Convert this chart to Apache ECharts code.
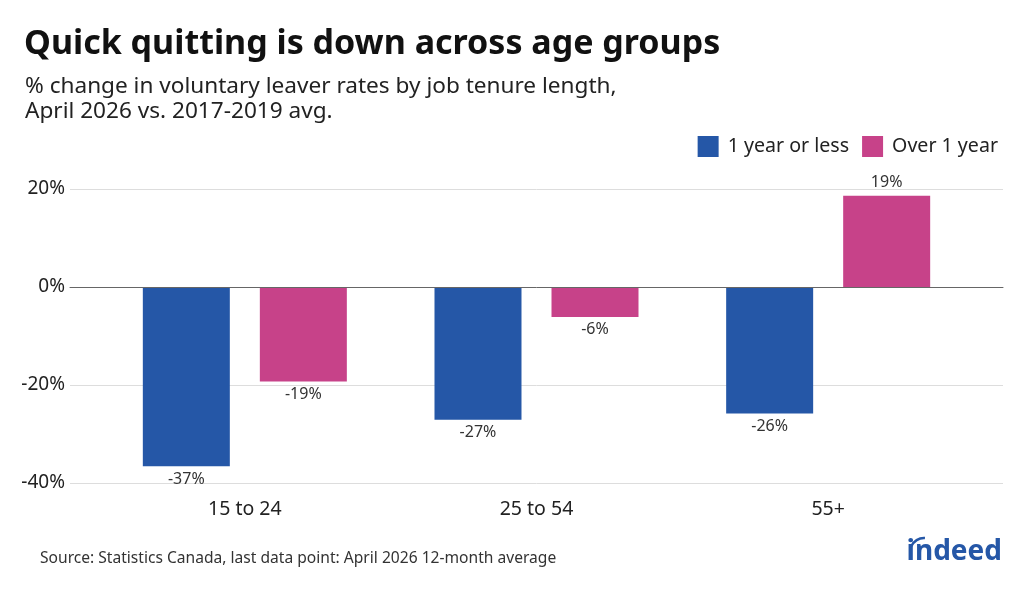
<!DOCTYPE html>
<html>
<head>
<meta charset="utf-8">
<script src="https://cdn.jsdelivr.net/npm/echarts@6/dist/echarts.min.js"></script>
<style>
  html, body { margin: 0; padding: 0; background: #fff; }
  #chart { width: 1024px; height: 614px; }
</style>
</head>
<body>
<div id="chart"></div>
<script>
// age groups and the two tenure series (% change vs 2017-2019 avg)
const ageGroups = ['15 to 24', '25 to 54', '55+'];
const shortTenure = [-36.6, -27.1, -25.8];
const longTenure = [-19.3, -6.1, 18.6];
const yTicks = { min: -40, max: 20, step: 20 };

const FONT = '"Noto Sans", "Open Sans", sans-serif';
const BLUE = '#2557a7';
const PINK = '#c74289';

// label below for negative bars, above for positive
const withLabels = vals => vals.map(v => ({
    value: v,
    label: { position: v < 0 ? 'bottom' : 'top' }
}));

const chart = echarts.init(document.getElementById('chart'));
chart.setOption({
    backgroundColor: '#fff',
    textStyle: { fontFamily: FONT },
    title: [
        { text: 'Quick quitting is down across age groups', left: 19, top: 22,
          textStyle: { fontFamily: FONT, fontSize: 34, fontWeight: 'bold', color: '#111' } },
        { text: '% change in voluntary leaver rates by job tenure length,\nApril 2026 vs. 2017-2019 avg.', left: 20, top: 69,
          textStyle: { fontFamily: FONT, fontSize: 22.6, fontWeight: 'normal', color: '#222', lineHeight: 25 } },
        { text: 'Source: Statistics Canada, last data point: April 2026 12-month average', left: 35, top: 546,
          textStyle: { fontFamily: FONT, fontSize: 15.6, fontWeight: 'normal', color: '#333' } },
        { text: 'indeed', right: 17, top: 533,
          textStyle: { fontFamily: FONT, fontSize: 28, fontWeight: 'bold', color: BLUE } }
    ],
    legend: {
        right: 21, top: 131,
        icon: 'rect', itemWidth: 21, itemHeight: 21, itemGap: 13,
        textStyle: { fontFamily: FONT, fontSize: 19.6, color: '#222', padding: [0, 0, 0, 4] },
        data: ['1 year or less', 'Over 1 year']
    },
    grid: [
        { left: 70, right: 21, top: 189, bottom: 131 },   // gridlines + y labels
        { left: 99, right: 50, top: 189, bottom: 131 }    // bars
    ],
    xAxis: [
        { type: 'category', gridIndex: 0, data: ageGroups, z: 5,
          axisLine: { show: true, onZero: true, lineStyle: { color: '#666', width: 1 } },
          axisTick: { show: false }, axisLabel: { show: false }, splitLine: { show: false } },
        { type: 'category', gridIndex: 1, data: ageGroups,
          axisLine: { show: false, onZero: false }, axisTick: { show: false },
          axisLabel: { fontFamily: FONT, fontSize: 19.5, color: '#222', margin: 16 } }
    ],
    yAxis: [
        { type: 'value', gridIndex: 0, min: yTicks.min, max: yTicks.max, interval: yTicks.step,
          axisLine: { show: false }, axisTick: { show: false },
          axisLabel: { formatter: '{value}%', fontFamily: FONT, fontSize: 19, color: '#222', margin: 5 },
          splitLine: { lineStyle: { color: '#dddddd', width: 1 } } },
        { type: 'value', gridIndex: 1, min: yTicks.min, max: yTicks.max, interval: yTicks.step,
          axisLine: { show: false }, axisTick: { show: false }, axisLabel: { show: false },
          splitLine: { show: false } }
    ],
    series: [
        { name: '1 year or less', type: 'bar', xAxisIndex: 1, yAxisIndex: 1,
          data: withLabels(shortTenure), barWidth: 87, barGap: '34.5%',
          itemStyle: { color: BLUE },
          label: { show: true, distance: 5, fontFamily: FONT, fontSize: 16, color: '#333',
                   formatter: p => Math.round(p.value) + '%' } },
        { name: 'Over 1 year', type: 'bar', xAxisIndex: 1, yAxisIndex: 1,
          data: withLabels(longTenure), barWidth: 87, barGap: '34.5%',
          itemStyle: { color: PINK },
          label: { show: true, distance: 5, fontFamily: FONT, fontSize: 16, color: '#333',
                   formatter: p => Math.round(p.value) + '%' } }
    ],
    // the little swoosh over the "i" of the logo
    graphic: [
        { type: 'arc', shape: { cx: 924, cy: 552, r: 14, startAngle: 3.54, endAngle: 4.78, clockwise: true },
          style: { stroke: BLUE, lineWidth: 2.5, fill: null } }
    ]
});
</script>
</body>
</html>
